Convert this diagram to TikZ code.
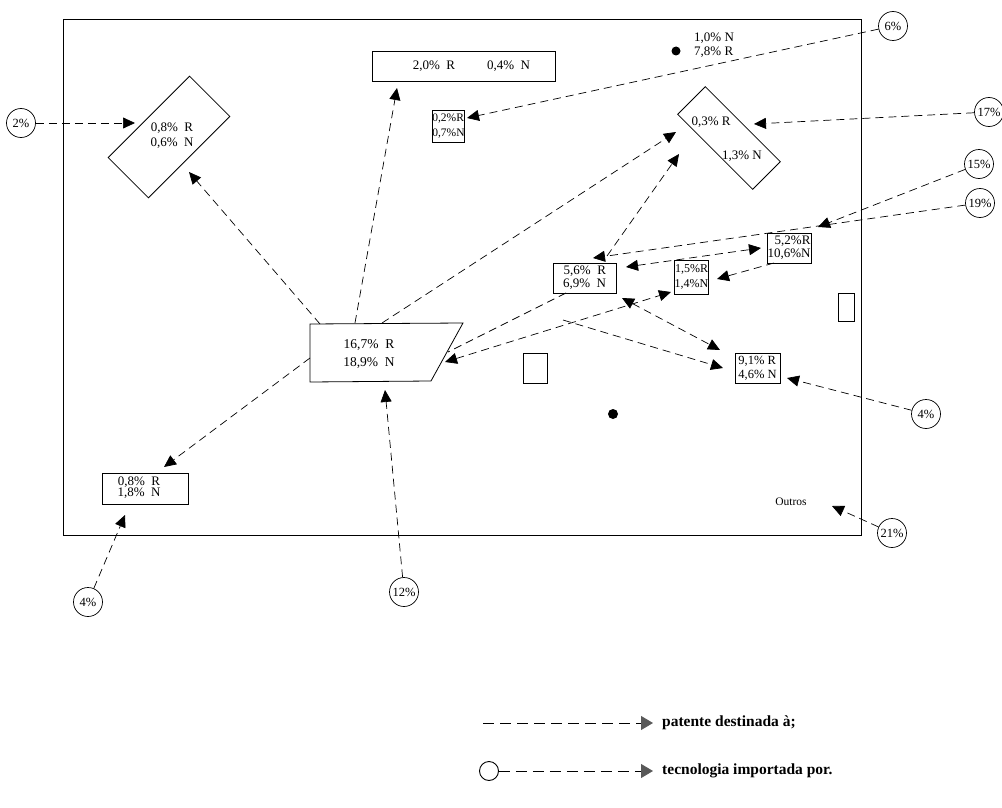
\documentclass[tikz,border=0pt]{standalone}
\usepackage{fontspec}
\setmainfont{Liberation Serif}
\usetikzlibrary{arrows.meta}
\begin{document}
\begin{tikzpicture}[x=1pt,y=-1pt,
  frame/.style={draw,line width=1pt},
  shp/.style={draw,line width=0.8pt,inner sep=1pt},
  lbl/.style={font=\fontsize{13}{15}\selectfont,align=center,inner sep=0pt},
  small/.style={shp,font=\fontsize{11}{13}\selectfont},
  pct/.style={draw,circle,line width=0.7pt,minimum size=29pt,inner sep=0pt,font=\fontsize{12.5}{13}\selectfont},
  tip/.tip={Triangle[length=12pt,width=11pt]},
  link/.style={dash pattern=on 8pt off 5pt,line width=0.7pt,-tip},
  dlink/.style={dash pattern=on 8pt off 5pt,line width=0.7pt,tip-tip},
  plain/.style={dash pattern=on 8pt off 5pt,line width=0.7pt},
  legtip/.tip={Triangle[length=12pt,width=14pt,fill=black!65,color=black!65]},
  leg/.style={dash pattern=on 11pt off 6pt,line width=1pt,-legtip},
  legtxt/.style={anchor=west,font=\fontsize{15.5}{17}\selectfont\bfseries,inner sep=0pt}
]
\useasboundingbox (0,0) rectangle (1002,808);

% outer frame
\draw[frame] (63,20) rectangle (861,535);

% shapes
\node[shp,rotate=45,minimum width=115pt,minimum height=57pt] (A) at (169,137) {};
\node[lbl] (At) at (172,136) {0,8\%~~R\\0,6\%~~N};

\node[shp,minimum width=183pt,minimum height=30pt] (B) at (463.5,66) {};
\node[lbl] (Bt) at (471.5,66) {2,0\%~~R\hspace{32pt}0,4\%~~N};

\node[small,minimum width=31pt,minimum height=32pt,inner sep=0pt,align=left,font=\fontsize{11.5}{15}\selectfont] (C) at (448.5,126) {0,2\%R\\0,7\%N};

\fill (676,51) circle (4.5);
\node[lbl,anchor=west] (D1) at (694,38) {1,0\% N};
\node[lbl,anchor=west] (D2) at (694,52) {7,8\% R};

\node[shp,rotate=-45,minimum width=106pt,minimum height=39pt] (E) at (729,138) {};
\node[lbl] (E1) at (711,122) {0,3\% R};
\node[lbl] (E2) at (742,156) {1,3\% N};

\draw[line width=0.8pt] (310,324) coordinate (F1) -- (463,323) coordinate (F2)
  -- (431,381) coordinate (F3) -- (310,382) coordinate (F4) -- cycle;
\node[font=\fontsize{13.5}{18}\selectfont,align=center,inner sep=0pt] (Ft) at (369,354) {16,7\%~~R\\18,9\%~~N};

\node[small,minimum width=63pt,minimum height=30pt,align=right,font=\fontsize{13}{13}\selectfont] (G) at (584.5,278) {5,6\%~~R\\6,9\%~~N};
\node[small,minimum width=33pt,minimum height=34pt,inner sep=0pt,align=center,font=\fontsize{12}{15}\selectfont] (H) at (691.5,277) {1,5\%R\\1,4\%N};
\node[small,minimum width=44pt,minimum height=30pt,inner sep=0pt,align=right,font=\fontsize{13}{13}\selectfont] (I) at (789,248) {5,2\%R\\10,6\%N};
\node[small,minimum width=45pt,minimum height=30pt,inner sep=0pt,align=left,font=\fontsize{12.5}{14}\selectfont] (J) at (757.5,368) {9,1\% R\\4,6\% N};
\node[small,minimum width=86pt,minimum height=31pt] (K) at (145,488.5) {};
\node[font=\fontsize{13}{10.5}\selectfont,align=center,inner sep=0pt] (Kt) at (139,487.5) {0,8\%~~R\\1,8\%~~N};

\draw[line width=0.8pt] (523,353) rectangle (547,383);
\draw[line width=0.8pt] (838,293) rectangle (854,321);
\fill (613,414) circle (5);
\node[font=\fontsize{11.5}{12}\selectfont,inner sep=0pt] (O) at (791,502) {Outros};

% percentage circles
\node[pct] (c2) at (21,123) {2\%};
\node[pct] (c6) at (893,26) {6\%};
\node[pct] (c17) at (989,112) {17\%};
\node[pct] (c15) at (979,164) {15\%};
\node[pct] (c19) at (980,203) {19\%};
\node[pct] (c4r) at (926,414) {4\%};
\node[pct] (c21) at (892,533) {21\%};
\node[pct] (c4l) at (88,602) {4\%};
\node[pct] (c12) at (404,592) {12\%};

% arrow end points
\coordinate (pA1) at (135,123);
\coordinate (pA2) at (189,172);
\coordinate (pB) at (397,88);
\coordinate (pC) at (467,118);
\coordinate (pE1) at (754,124);
\coordinate (pE2) at (676,132);
\coordinate (pE3) at (679,154);
\coordinate (pI1) at (818,227);
\coordinate (pG1) at (593,258);
\coordinate (pG2) at (626,267);
\coordinate (pI2) at (761,248);
\coordinate (pI3) at (774,263);
\coordinate (pH1) at (717,279);
\coordinate (pH2) at (671,292);
\coordinate (pF5) at (445,362);
\coordinate (pF6) at (448,352);
\coordinate (pG3) at (566,293);
\coordinate (pG4) at (607,256);
\coordinate (pG5) at (622,298);
\coordinate (pJ1) at (720,350);
\coordinate (pJ2) at (723,368);
\coordinate (pJ3) at (787,378);
\coordinate (pK1) at (164,467);
\coordinate (pK2) at (125,515);
\coordinate (pF7) at (385,390);
\coordinate (pO) at (832,506);
\coordinate (sF1) at (320,324);
\coordinate (sF2) at (355,323);
\coordinate (sF3) at (382,323);
\coordinate (sF4) at (310,358);
\coordinate (br) at (563,320);

% connectors
\draw[link] (c2) -- (pA1);
\draw[link] (sF1) -- (pA2);
\draw[link] (sF2) -- (pB);
\draw[link] (c6) -- (pC);
\draw[link] (c17) -- (pE1);
\draw[link] (sF3) -- (pE2);
\draw[link] (pG4) -- (pE3);
\draw[link] (c15) -- (pI1);
\draw[link] (c19) -- (pG1);
\draw[dlink] (pG2) -- (pI2);
\draw[link] (pI3) -- (pH1);
\draw[dlink] (pF5) -- (pH2);
\draw[plain] (pG3) -- (pF6);
\draw[dlink] (pG5) -- (pJ1);
\draw[link] (br) -- (pJ2);
\draw[link] (c4r) -- (pJ3);
\draw[link] (sF4) -- (pK1);
\draw[link] (c4l) -- (pK2);
\draw[link] (c12) -- (pF7);
\draw[link] (c21) -- (pO);

% legend
\coordinate (l1s) at (483,723);
\coordinate (l1e) at (653,723);
\draw[leg] (l1s) -- (l1e);
\node[legtxt] (lt1) at (662,723) {patente destinada à;};
\node[draw,circle,line width=0.9pt,minimum size=19pt,inner sep=0pt] (lc) at (489,771) {};
\coordinate (l2e) at (653,771);
\draw[leg] (lc) -- (l2e);
\node[legtxt] (lt2) at (662,771) {tecnologia importada por.};
\end{tikzpicture}
\end{document}
